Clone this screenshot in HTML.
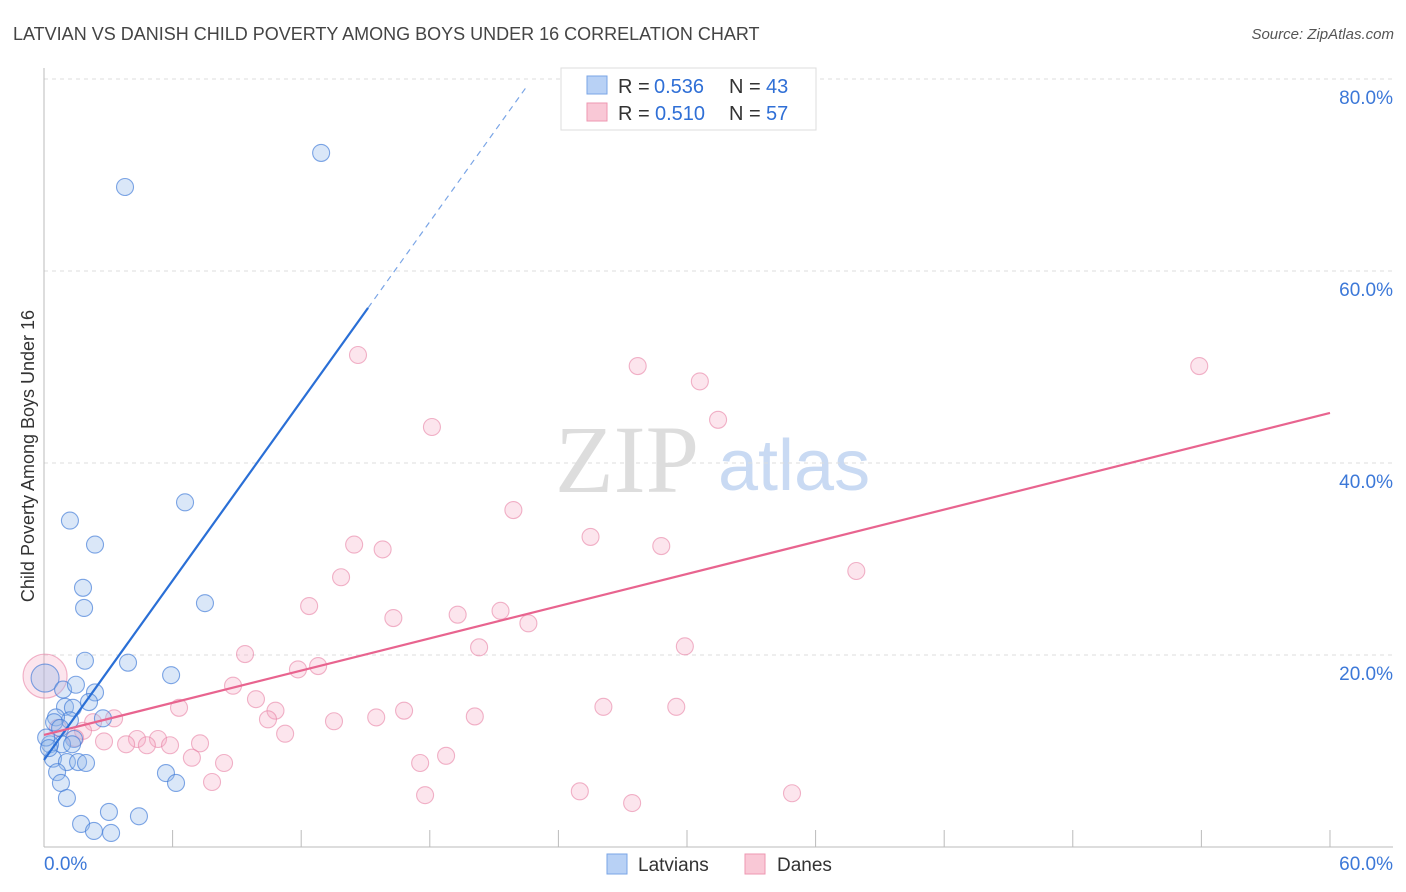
<!DOCTYPE html>
<html><head><meta charset="utf-8"><style>
body{margin:0;background:#fff;font-family:"Liberation Sans",sans-serif;}
#wrap{position:relative;width:1406px;height:892px;overflow:hidden}
</style></head><body>
<div id="wrap">
<svg id="svg" width="1406" height="892" xmlns="http://www.w3.org/2000/svg">
<text x="13" y="40" font-size="18" fill="#444">LATVIAN VS DANISH CHILD POVERTY AMONG BOYS UNDER 16 CORRELATION CHART</text>
<text x="1394" y="39" font-size="15" fill="#555" text-anchor="end" font-style="italic">Source: ZipAtlas.com</text>
<text x="34" y="456" font-size="18" fill="#333" text-anchor="middle" transform="rotate(-90 34 456)">Child Poverty Among Boys Under 16</text>
<text x="555" y="492" font-size="96" fill="#ddd" font-family="Liberation Serif,serif">ZIP</text>
<text x="718" y="490" font-size="72" fill="#c9daf3">atlas</text>
<g id="grid"></g><g id="pts"></g><g id="lines"></g>
<g>
<rect x="561" y="68" width="255" height="62" fill="#fff" stroke="#ddd"/>
<rect x="587" y="76" width="20" height="18" fill="#b8d1f5" stroke="#7aa5e6"/>
<text x="618" y="93" font-size="20" fill="#333">R =</text><text x="654" y="93" font-size="20" fill="#2f6fd6">0.536</text>
<text x="729" y="93" font-size="20" fill="#333">N =</text><text x="766" y="93" font-size="20" fill="#2f6fd6">43</text>
<rect x="587" y="103" width="20" height="18" fill="#f9c8d6" stroke="#ee97b1"/>
<text x="618" y="120" font-size="20" fill="#333">R =</text><text x="655" y="120" font-size="20" fill="#2f6fd6">0.510</text>
<text x="729" y="120" font-size="20" fill="#333">N =</text><text x="766" y="120" font-size="20" fill="#2f6fd6">57</text>
</g>
<g>
<rect x="607" y="854" width="20" height="20" fill="#b8d1f5" stroke="#7aa5e6"/>
<text x="638" y="871" font-size="19" fill="#333">Latvians</text>
<rect x="745" y="854" width="20" height="20" fill="#f9c8d6" stroke="#ee97b1"/>
<text x="777" y="871" font-size="19" fill="#333">Danes</text>
</g>
</svg></div>
<script>
const yTicks=[20,40,60,80];
const xTickLabels=["0.0%","60.0%"];
const latX=[3.78,12.93,6.58,1.21,2.38,1.82,1.87,7.51,1.91,3.92,5.93,0.05,0.89,1.49,2.38,2.1,0.98,1.35,1.21,0.56,0.47,2.75,0.75,1.4,0.84,1.31,0.28,0.42,1.07,1.59,1.96,0.61,5.69,6.16,0.79,1.07,3.03,4.43,1.73,2.33,3.13,0.1,0.23];
const latY=[68.75,72.3,35.9,34.0,31.5,27.0,24.9,25.4,19.4,19.2,17.9,17.6,16.4,16.9,16.1,15.1,14.6,14.5,13.2,13.5,13.0,13.4,12.4,11.25,10.7,10.7,10.7,9.2,8.85,8.85,8.75,7.8,7.7,6.67,6.67,5.1,3.65,3.2,2.4,1.67,1.46,11.4,10.3];
const danX=[14.65,27.7,30.6,53.9,31.45,18.1,21.9,25.5,14.47,15.8,28.8,37.9,13.86,12.37,21.3,19.3,16.3,22.6,29.9,20.3,9.38,12.79,11.85,8.82,9.89,6.3,10.8,10.45,13.53,15.5,16.8,20.1,26.1,29.5,3.27,2.29,11.25,1.82,1.45,2.8,4.34,5.32,3.83,4.8,5.88,7.28,6.9,8.4,18.76,17.55,7.84,17.78,25.0,27.44,34.9,0.05,0.65];
const danY=[51.25,50.1,48.5,50.1,44.5,43.75,35.1,32.3,31.5,31.0,31.35,28.75,28.1,25.1,24.6,24.2,23.85,23.3,20.9,20.8,20.1,18.85,18.5,16.8,15.4,14.5,14.2,13.3,13.1,13.5,14.2,13.6,14.6,14.6,13.4,13.0,11.8,12.1,11.35,11.0,11.25,11.25,10.7,10.6,10.6,10.8,9.3,8.75,9.5,8.75,6.77,5.4,5.8,4.58,5.6,17.8,12.4];
const latFit=[9.06,3.115], danFit=[11.67,0.559];
const X=v=>44+v*21.433, Y=v=>847-v*9.6;
const NS="http://www.w3.org/2000/svg";
function mk(tag,attrs,parent){const e=document.createElementNS(NS,tag);for(const k in attrs)e.setAttribute(k,attrs[k]);parent.appendChild(e);return e;}
const grid=document.getElementById('grid');
yTicks.forEach(t=>{
 const l=mk('line',{x1:44,x2:1393,y1:Y(t),y2:Y(t),stroke:'#ddd','stroke-dasharray':'4,4'},grid);
 
 
 const tx=mk('text',{x:1393,y:Y(t)+25,'font-size':19,fill:'#3c78d8','text-anchor':'end'},grid);
 tx.textContent=t.toFixed(1)+'%';
 
 
});
const ax=mk('line',{x1:44,x2:1393,y1:847,y2:847,stroke:'#bbb'},grid);


const ay=mk('line',{x1:44,x2:44,y1:68,y2:847,stroke:'#bbb'},grid);


for(let i=1;i<=10;i++){const t=mk('line',{x1:X(i*6),x2:X(i*6),y1:830,y2:847,stroke:'#bbb'},grid);
 
 }
const xl0=mk('text',{x:44,y:870,'font-size':19,fill:'#3c78d8'},grid);xl0.textContent=xTickLabels[0];


const xl1=mk('text',{x:1393,y:870,'font-size':19,fill:'#3c78d8','text-anchor':'end'},grid);xl1.textContent=xTickLabels[1];


const pts=document.getElementById('pts');
danX.forEach((x,i)=>{const big=i==danX.length-2;
 const c=mk('circle',{cx:X(x),cy:Y(danY[i]),r:big?22:8.5,fill:'rgba(246,170,195,0.3)',stroke:'rgba(232,130,165,0.6)','stroke-width':1.1},pts);
 
 });
latX.forEach((x,i)=>{const big=i==11;
 const c=mk('circle',{cx:X(x),cy:Y(latY[i]),r:big?14:8.5,fill:'rgba(150,185,235,0.35)',stroke:'rgba(60,120,215,0.65)','stroke-width':1.1},pts);
 
 });
const lines=document.getElementById('lines');
const lb=mk('line',{x1:X(0),y1:Y(latFit[0]),x2:X(15.12),y2:Y(latFit[0]+latFit[1]*15.12),stroke:'#2a6fd6','stroke-width':2.2},lines);


const lbd=mk('line',{x1:X(15.12),y1:Y(latFit[0]+latFit[1]*15.12),x2:X(22.5),y2:Y(latFit[0]+latFit[1]*22.5),stroke:'#7aa5e6','stroke-width':1.2,'stroke-dasharray':'6,5'},lines);


const lp=mk('line',{x1:X(0),y1:Y(danFit[0]),x2:X(60),y2:Y(danFit[0]+danFit[1]*60),stroke:'#e8648f','stroke-width':2.2},lines);


</script>
</body></html>
